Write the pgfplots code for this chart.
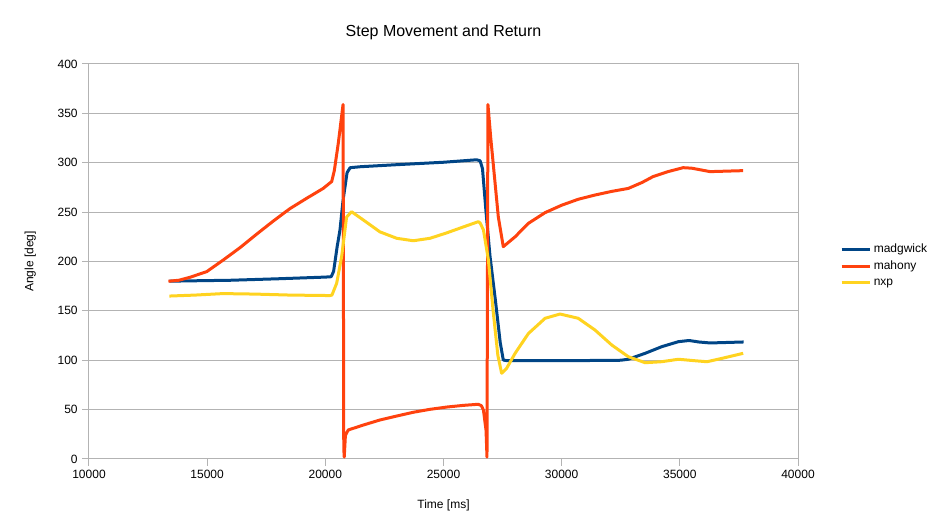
\documentclass[border=0pt]{standalone}
\usepackage{fontspec}
\setmainfont{Liberation Sans}
\usepackage{pgfplots}
\pgfplotsset{compat=1.18}
\definecolor{cmad}{HTML}{004586}
\definecolor{cmah}{HTML}{FF420E}
\definecolor{cnxp}{HTML}{FFD320}
\definecolor{cgrid}{HTML}{B3B3B3}
\begin{document}
\begin{tikzpicture}
\path[use as bounding box] (-66.75pt,-53.25pt) rectangle (640.5pt,344.25pt);
\begin{axis}[
  at={(0,0)}, anchor=south west,
  scale only axis, width=531.75pt, height=296.25pt,
  xmin=10000, xmax=40000, ymin=0, ymax=400,
  xtick={10000,15000,...,40000}, ytick={0,50,...,400},
  scaled x ticks=false,
  /pgf/number format/1000 sep={},
  /pgf/number format/assume math mode=true,
  tick label style={font=\fontsize{9}{11}\selectfont},
  ymajorgrids, major grid style={cgrid, line width=0.75pt},
  axis line style={cgrid, line width=0.75pt},
  tick style={cgrid, line width=0.75pt},
  tick align=outside, major tick length=5pt,
  xtick pos=bottom, ytick pos=left,
  xlabel={Time [ms]}, ylabel={Angle [deg]},
  label style={font=\fontsize{9}{11}\selectfont},
  xlabel style={at={(axis description cs:0.5,-0.118)}, anchor=center},
  ylabel style={at={(axis description cs:-0.083,0.5)}, anchor=center},
  title={Step Movement and Return},
  title style={font=\fontsize{12}{14}\selectfont, at={(axis description cs:0.5,1.061)}, anchor=center, yshift=0pt},
  legend style={draw=none, fill=none, at={(rel axis cs:1.059,0.49)}, anchor=west,
    font=\fontsize{9}{11}\selectfont, row sep=1pt, inner sep=0pt},
  legend cell align=left,
  legend image code/.code={\draw[#1, line width=2.25pt] (0pt,0pt) -- (21pt,0pt);},
  every axis plot/.append style={line width=2.25pt, line join=round},
]
\addplot[cmad] coordinates {
(13400,180) (14000,180.3) (16000,181) (18000,182.5) (20000,184.2) (20250,184.6)
(20350,190) (20500,215) (20620,232) (20750,262) (20920,290) (21050,295)
(21500,296) (23000,298) (25000,300.5) (26400,303) (26550,302) (26650,294)
(26800,250) (26970,205) (27200,160) (27400,118) (27530,100.2) (27700,99.5)
(30000,99.5) (32500,100) (32820,101) (33530,107) (34230,113.7) (34940,118.8)
(35390,120) (35800,118.5) (36280,117.5) (37000,118) (37700,118.5)
};
\addlegendentry{madgwick}
\addplot[cmah] coordinates {
(13360,180) (13800,181) (14270,184) (14980,189.7) (15680,201.5) (16390,214)
(17100,227.8) (17800,241) (18500,253.5) (19210,264) (19910,274) (20270,281)
(20380,292) (20550,320) (20750,359) (20780,11) (20800,2) (20850,24)
(20970,29.4) (21610,34.4) (22310,39.5) (23020,43.5) (23720,47.3) (24430,50.3)
(25140,52.6) (25840,54.3) (26470,55.4) (26600,54) (26690,49.6) (26800,29)
(26840,2) (26880,359) (27000,325) (27320,245) (27530,215) (28030,225)
(28590,238.6) (29300,249.5) (30000,257) (30700,263) (31410,267.3) (32120,271)
(32820,274) (33400,280) (33870,286) (34500,291) (35140,295) (35500,294.5)
(36280,291) (37680,292)
};
\addlegendentry{mahony}
\addplot[cnxp] coordinates {
(13400,165) (14500,166) (15670,167.5) (17000,167) (18500,166) (20200,165.5)
(20280,166) (20480,178) (20690,205) (20900,245) (21110,250.4) (21610,242)
(22310,230) (23020,223.5) (23720,221) (24430,223.5) (25140,229) (25840,235)
(26470,240.3) (26550,239) (26690,232) (26900,201.5) (27100,150) (27300,105)
(27460,86.8) (27670,91.8) (28030,107) (28590,127) (29300,142.5) (29930,146.8)
(30700,142.5) (31410,130.6) (32120,115.4) (32820,103.6) (33530,97.5) (34230,98.5)
(34940,101) (35640,99.5) (36150,98.5) (36800,102) (37680,107)
};
\addlegendentry{nxp}
\end{axis}
\end{tikzpicture}
\end{document}
